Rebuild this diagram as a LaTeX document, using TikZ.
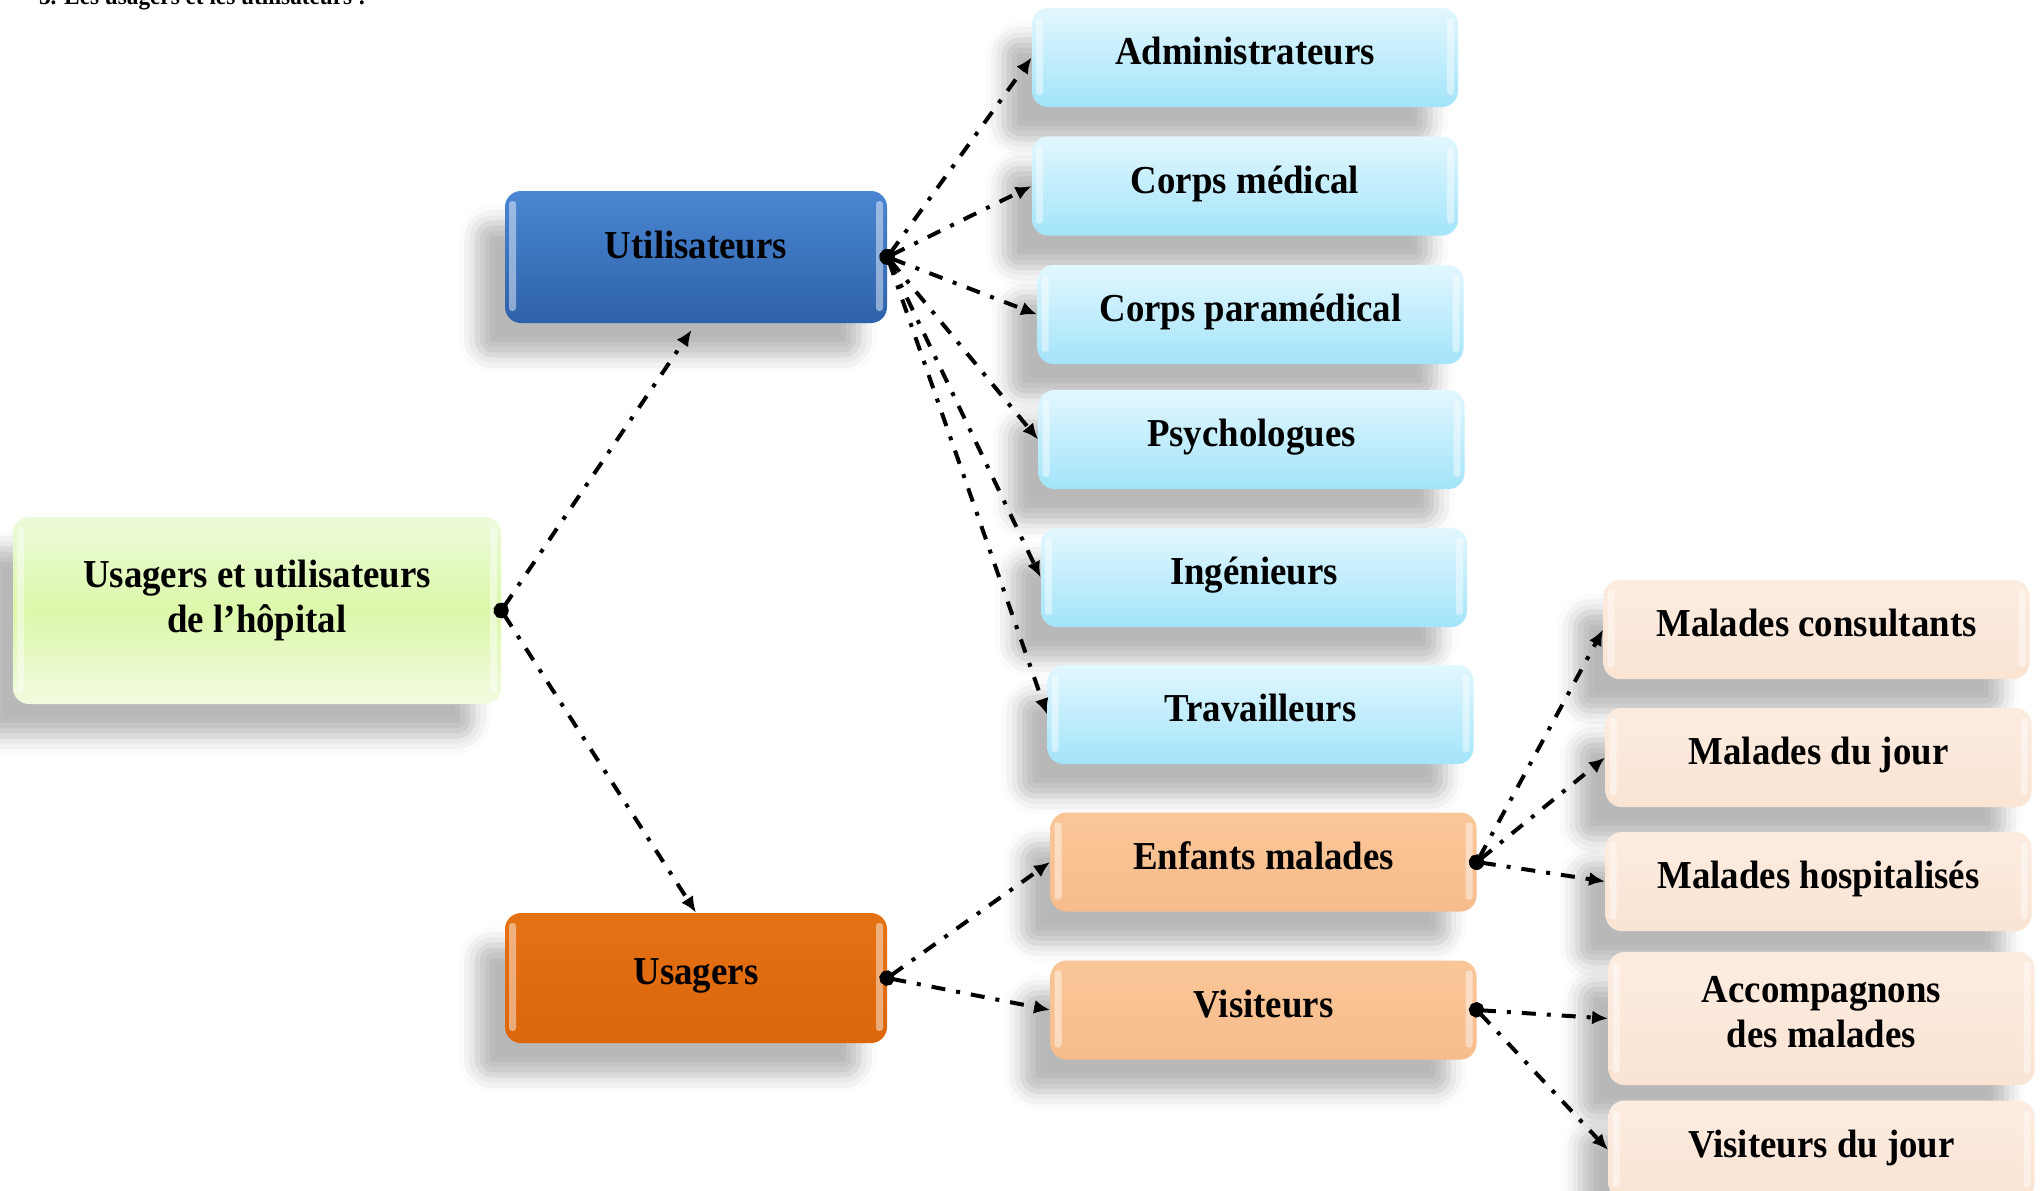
\documentclass[tikz,border=0pt]{standalone}
\usepackage{fontspec}
\setmainfont{Liberation Serif}[FakeStretch=0.93]
\usepackage{xcolor}
\usepackage{tikz}
\usetikzlibrary{arrows.meta,positioning,calc,shadows.blur}

\definecolor{utilblueA}{RGB}{74,134,210}
\definecolor{utilblueB}{RGB}{46,98,170}
\definecolor{skyA}{RGB}{226,247,254}
\definecolor{skyB}{RGB}{163,228,250}
\definecolor{limeA}{RGB}{236,250,218}
\definecolor{limeM}{RGB}{220,248,170}
\definecolor{limeB}{RGB}{242,250,224}
\definecolor{rustA}{RGB}{230,114,22}
\definecolor{rustB}{RGB}{220,102,10}
\definecolor{peachA}{RGB}{250,198,152}
\definecolor{peachB}{RGB}{246,188,140}
\definecolor{creamA}{RGB}{252,236,224}
\definecolor{creamB}{RGB}{250,228,212}

\begin{document}
\begin{tikzpicture}[
  x=0.5pt,y=-0.5pt,
  lift/.style={execute at end node={\rule[-#1]{0pt}{0pt}}},
  lift/.default=6.5pt,
  glossy/.style={path picture={
    \fill[white,opacity=.45,rounded corners=1.5pt] ($(path picture bounding box.north west)+(2pt,-5pt)$) rectangle ($(path picture bounding box.south west)+(5.5pt,6pt)$);
    \fill[white,opacity=.45,rounded corners=1.5pt] ($(path picture bounding box.north east)+(-2pt,-5pt)$) rectangle ($(path picture bounding box.south east)+(-5.5pt,6pt)$);
  }},
  box/.style={rounded corners=8pt,minimum width=213pt,minimum height=49.5pt,align=center,
    font=\fontsize{19.8}{22.5}\selectfont\bfseries,lift,glossy,
    blur shadow={shadow xshift=-14pt,shadow yshift=-16pt,shadow blur radius=9pt,shadow opacity=28}},
  sky/.style={box,top color=skyA,bottom color=skyB},
  cream/.style={box,top color=creamA,bottom color=creamB},
  peach/.style={box,top color=peachA,bottom color=peachB},
  arr/.style={{Circle[length=7.5pt]}-{Latex[length=8pt,width=7pt]},line width=2pt,
    dash pattern=on 7pt off 5.5pt on 2pt off 5.5pt,shorten <=-4pt}
]
  \useasboundingbox (0,0) rectangle (2040,1190);
  \node[anchor=base west,font=\fontsize{12.5}{14}\selectfont\bfseries] (titre) at (32,4) {3. Les usagers et les utilisateurs :};

  \node[box,lift=14pt,minimum width=244pt,minimum height=93.5pt,top color=limeA,bottom color=limeB,middle color=limeM] (root) at (257,610.5) {Usagers et utilisateurs\\de l’hôpital};
  \node[box,lift=12pt,minimum width=191pt,minimum height=66pt,top color=utilblueA,bottom color=utilblueB] (util) at (696,257) {Utilisateurs};
  \node[box,minimum width=191pt,minimum height=65pt,top color=rustA,bottom color=rustB] (usag) at (696,978) {Usagers};

  \node[sky] (admin) at (1245,57.5) {Administrateurs};
  \node[sky] (med) at (1245,186) {Corps médical};
  \node[sky] (paramed) at (1250.5,314.5) {Corps paramédical};
  \node[sky] (psy) at (1251.5,439.5) {Psychologues};
  \node[sky] (inge) at (1254,577.5) {Ingénieurs};
  \node[sky] (trav) at (1260.5,714.5) {Travailleurs};

  \node[peach] (enf) at (1263.5,862) {Enfants malades};
  \node[peach] (visit) at (1263.5,1010) {Visiteurs};

  \node[cream] (consult) at (1816.5,629.5) {Malades consultants};
  \node[cream] (mjour) at (1818.5,757.5) {Malades du jour};
  \node[cream] (hosp) at (1818.5,881.5) {Malades hospitalisés};
  \node[cream,lift=6pt,minimum height=66.5pt] (accomp) at (1821.5,1018.5) {Accompagnons\\des malades};
  \node[cream] (vjour) at (1821.5,1150) {Visiteurs du jour};

  % liens
  \draw[arr,shorten >=4pt] (root.east) -- (util.south);
  \draw[arr] (root.east) -- (usag.north);
  \draw[arr] (util.east) -- (admin.west);
  \draw[arr] (util.east) -- (med.west);
  \draw[arr] (util.east) -- (paramed.west);
  \draw[arr] (util.east) -- (psy.west);
  \draw[arr] (util.east) -- (inge.west);
  \draw[arr] (util.east) -- (trav.west);
  \draw[arr] (usag.east) -- (enf.west);
  \draw[arr] (usag.east) -- (visit.west);
  \draw[arr] (enf.east) -- (consult.west);
  \draw[arr] (enf.east) -- (mjour.west);
  \draw[arr] (enf.east) -- (hosp.west);
  \draw[arr] (visit.east) -- (accomp.west);
  \draw[arr] (visit.east) -- (vjour.west);
\end{tikzpicture}
\end{document}
